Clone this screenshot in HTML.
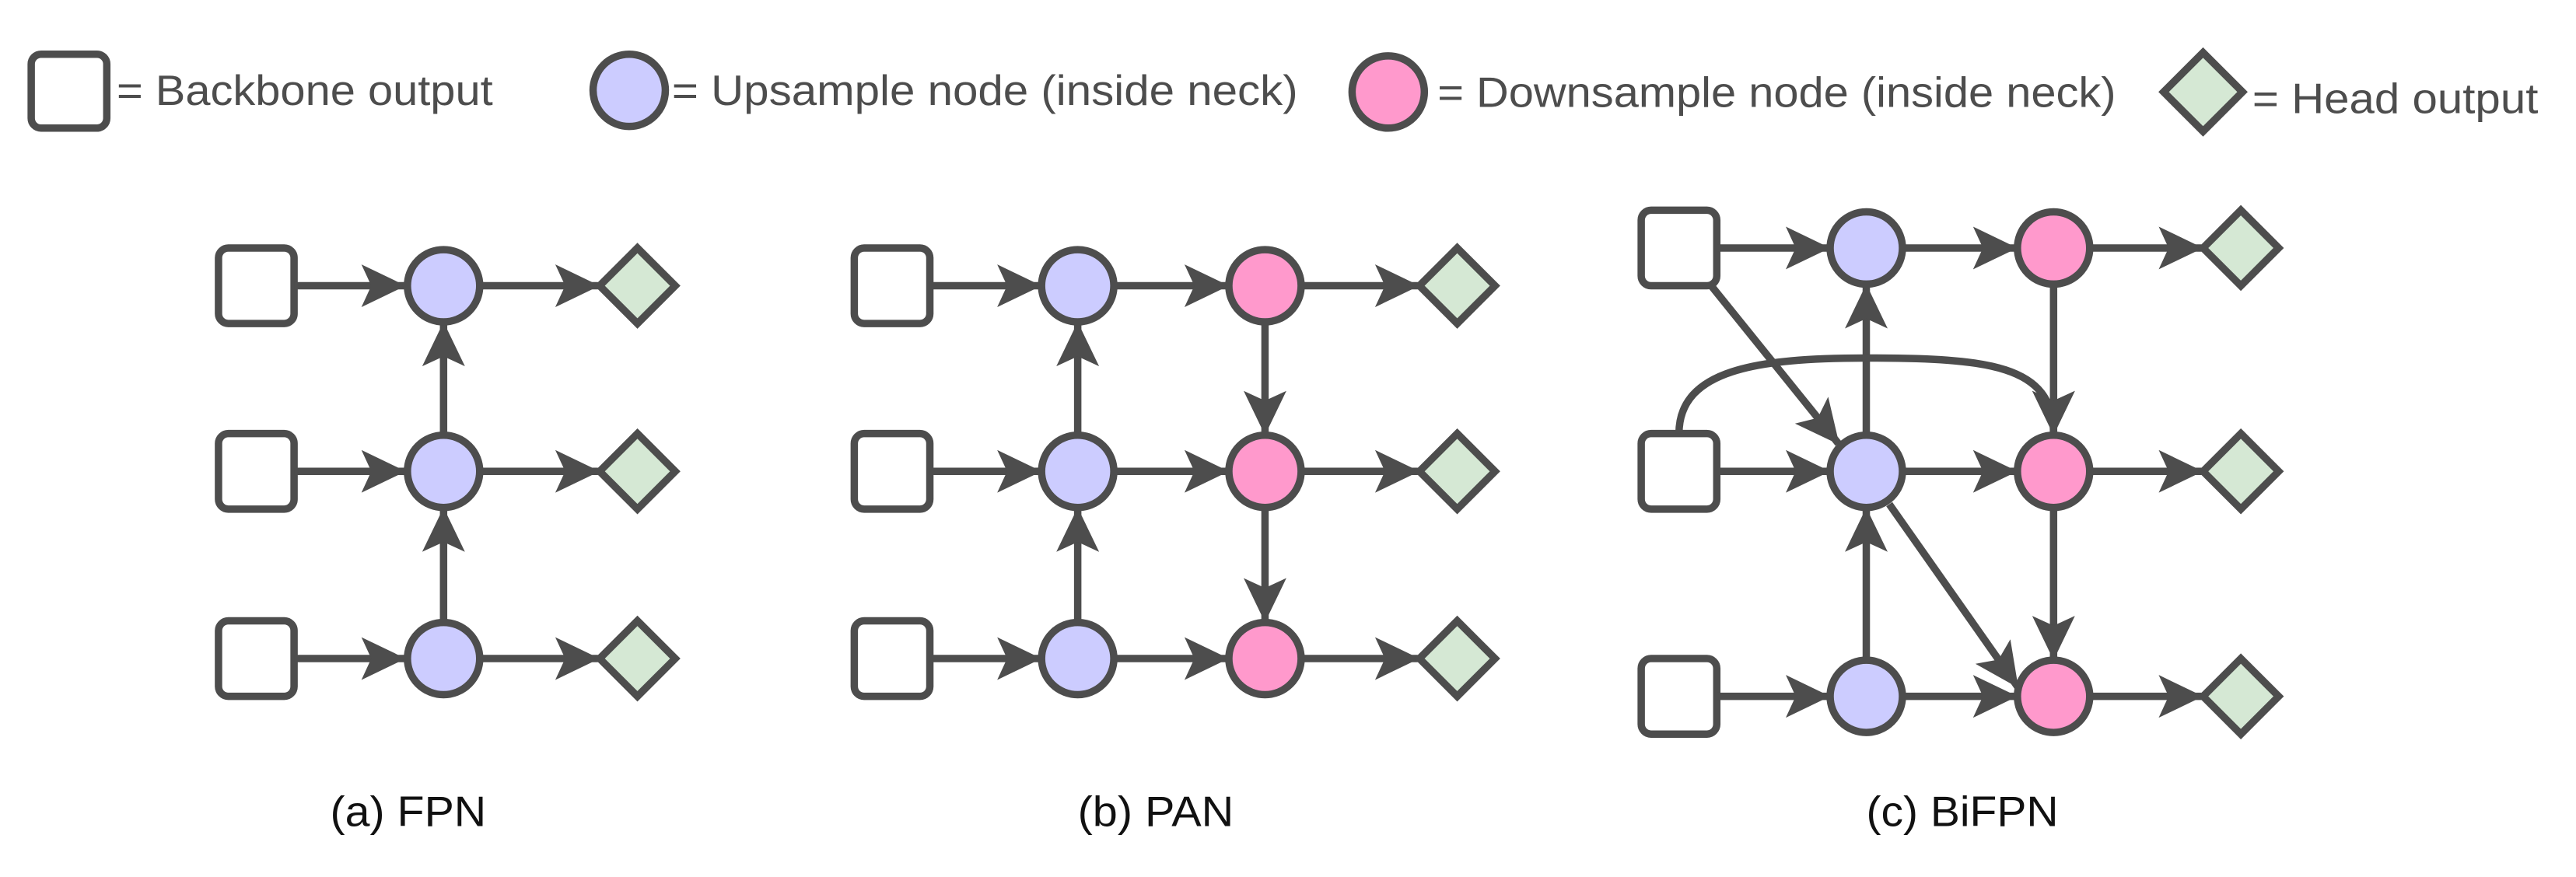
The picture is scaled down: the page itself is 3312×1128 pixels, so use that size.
<!DOCTYPE html>
<html><head><meta charset="utf-8"><style>
html,body{margin:0;padding:0;background:#fff;width:3312px;height:1128px;overflow:hidden}
svg{display:block}
text{font-family:"Liberation Sans",sans-serif;fill:#4d4d4d}
</style></head><body>
<svg width="3312" height="1128" viewBox="0 0 1568 534" preserveAspectRatio="none" xmlns="http://www.w3.org/2000/svg">
<defs>
<marker id="a" markerUnits="userSpaceOnUse" markerWidth="27" markerHeight="26" viewBox="0 0 27 26" refX="26" refY="13" orient="auto">
<path d="M0,0 L27,13 L0,26 L6,13 Z" fill="#4d4d4d"/>
</marker>
</defs>
<g stroke="#4d4d4d" stroke-width="4.5" fill="none">
<!-- legend -->
<rect x="19" y="33" width="46" height="45" rx="6" fill="#fff"/>
<circle cx="383" cy="55" r="22" fill="#ccccff"/>
<circle cx="845" cy="56" r="22" fill="#ff99cc"/>
<polygon points="1341,32 1365,56 1341,80 1317,56" fill="#d5e8d4"/>

<!-- FPN -->
<g>
<rect x="133" y="151" width="46" height="46" rx="6" fill="#fff"/>
<rect x="133" y="264" width="46" height="46" rx="6" fill="#fff"/>
<rect x="133" y="378" width="46" height="46" rx="6" fill="#fff"/>
<line x1="179" y1="174" x2="246" y2="174" marker-end="url(#a)"/>
<line x1="179" y1="287" x2="246" y2="287" marker-end="url(#a)"/>
<line x1="179" y1="401" x2="246" y2="401" marker-end="url(#a)"/>
<line x1="293" y1="174" x2="364" y2="174" marker-end="url(#a)"/>
<line x1="293" y1="287" x2="364" y2="287" marker-end="url(#a)"/>
<line x1="293" y1="401" x2="364" y2="401" marker-end="url(#a)"/>
<line x1="270" y1="378" x2="270" y2="310" marker-end="url(#a)"/>
<line x1="270" y1="264" x2="270" y2="197" marker-end="url(#a)"/>
<circle cx="270" cy="174" r="22" fill="#ccccff"/>
<circle cx="270" cy="287" r="22" fill="#ccccff"/>
<circle cx="270" cy="401" r="22" fill="#ccccff"/>
<polygon points="388,151 411,174 388,197 365,174" fill="#d5e8d4"/>
<polygon points="388,264 411,287 388,310 365,287" fill="#d5e8d4"/>
<polygon points="388,378 411,401 388,424 365,401" fill="#d5e8d4"/>
</g>

<!-- PAN -->
<g>
<rect x="520" y="151" width="46" height="46" rx="6" fill="#fff"/>
<rect x="520" y="264" width="46" height="46" rx="6" fill="#fff"/>
<rect x="520" y="378" width="46" height="46" rx="6" fill="#fff"/>
<line x1="566" y1="174" x2="633" y2="174" marker-end="url(#a)"/>
<line x1="566" y1="287" x2="633" y2="287" marker-end="url(#a)"/>
<line x1="566" y1="401" x2="633" y2="401" marker-end="url(#a)"/>
<line x1="679" y1="174" x2="747" y2="174" marker-end="url(#a)"/>
<line x1="679" y1="287" x2="747" y2="287" marker-end="url(#a)"/>
<line x1="679" y1="401" x2="747" y2="401" marker-end="url(#a)"/>
<line x1="793" y1="174" x2="863" y2="174" marker-end="url(#a)"/>
<line x1="793" y1="287" x2="863" y2="287" marker-end="url(#a)"/>
<line x1="793" y1="401" x2="863" y2="401" marker-end="url(#a)"/>
<line x1="656" y1="378" x2="656" y2="310" marker-end="url(#a)"/>
<line x1="656" y1="264" x2="656" y2="197" marker-end="url(#a)"/>
<line x1="770" y1="197" x2="770" y2="264" marker-end="url(#a)"/>
<line x1="770" y1="310" x2="770" y2="378" marker-end="url(#a)"/>
<circle cx="656" cy="174" r="22" fill="#ccccff"/>
<circle cx="656" cy="287" r="22" fill="#ccccff"/>
<circle cx="656" cy="401" r="22" fill="#ccccff"/>
<circle cx="770" cy="174" r="22" fill="#ff99cc"/>
<circle cx="770" cy="287" r="22" fill="#ff99cc"/>
<circle cx="770" cy="401" r="22" fill="#ff99cc"/>
<polygon points="887,151 910,174 887,197 864,174" fill="#d5e8d4"/>
<polygon points="887,264 910,287 887,310 864,287" fill="#d5e8d4"/>
<polygon points="887,378 910,401 887,424 864,401" fill="#d5e8d4"/>
</g>

<!-- BiFPN -->
<g>
<rect x="999" y="128" width="46" height="46" rx="6" fill="#fff"/>
<rect x="999" y="264" width="46" height="46" rx="6" fill="#fff"/>
<rect x="999" y="401" width="46" height="46" rx="6" fill="#fff"/>
<line x1="1045" y1="151" x2="1113" y2="151" marker-end="url(#a)"/>
<line x1="1045" y1="287" x2="1113" y2="287" marker-end="url(#a)"/>
<line x1="1045" y1="424" x2="1113" y2="424" marker-end="url(#a)"/>
<line x1="1159" y1="151" x2="1227" y2="151" marker-end="url(#a)"/>
<line x1="1159" y1="287" x2="1227" y2="287" marker-end="url(#a)"/>
<line x1="1159" y1="424" x2="1227" y2="424" marker-end="url(#a)"/>
<line x1="1273" y1="151" x2="1340" y2="151" marker-end="url(#a)"/>
<line x1="1273" y1="287" x2="1340" y2="287" marker-end="url(#a)"/>
<line x1="1273" y1="424" x2="1340" y2="424" marker-end="url(#a)"/>
<line x1="1136" y1="401" x2="1136" y2="310" marker-end="url(#a)"/>
<line x1="1136" y1="264" x2="1136" y2="174" marker-end="url(#a)"/>
<line x1="1250" y1="174" x2="1250" y2="264" marker-end="url(#a)"/>
<line x1="1250" y1="310" x2="1250" y2="401" marker-end="url(#a)"/>
<line x1="1040" y1="172" x2="1119" y2="270" marker-end="url(#a)"/>
<line x1="1150" y1="307" x2="1228" y2="418" marker-end="url(#a)"/>
<path d="M1022,264 C1022,225 1070,218 1136,218 C1210,218 1250,222 1250,264" marker-end="url(#a)"/>
<circle cx="1136" cy="151" r="22" fill="#ccccff"/>
<circle cx="1136" cy="287" r="22" fill="#ccccff"/>
<circle cx="1136" cy="424" r="22" fill="#ccccff"/>
<circle cx="1250" cy="151" r="22" fill="#ff99cc"/>
<circle cx="1250" cy="287" r="22" fill="#ff99cc"/>
<circle cx="1250" cy="424" r="22" fill="#ff99cc"/>
<polygon points="1364,128 1387,151 1364,174 1341,151" fill="#d5e8d4"/>
<polygon points="1364,264 1387,287 1364,310 1341,287" fill="#d5e8d4"/>
<polygon points="1364,401 1387,424 1364,447 1341,424" fill="#d5e8d4"/>
</g>
</g>
<g font-size="26">
<text x="71" y="64" textLength="229" lengthAdjust="spacingAndGlyphs">= Backbone output</text>
<text x="409" y="64" textLength="381" lengthAdjust="spacingAndGlyphs">= Upsample node (inside neck)</text>
<text x="875" y="65" textLength="413" lengthAdjust="spacingAndGlyphs">= Downsample node (inside neck)</text>
<text x="1371" y="69" textLength="174" lengthAdjust="spacingAndGlyphs">= Head output</text>
</g>
<g font-size="26">
<text x="201" y="503" textLength="95" lengthAdjust="spacingAndGlyphs" style="fill:#111">(a) FPN</text>
<text x="656" y="503" textLength="95" lengthAdjust="spacingAndGlyphs" style="fill:#111">(b) PAN</text>
<text x="1136" y="503" textLength="117" lengthAdjust="spacingAndGlyphs" style="fill:#111">(c) BiFPN</text>
</g>
</svg>
</body></html>
